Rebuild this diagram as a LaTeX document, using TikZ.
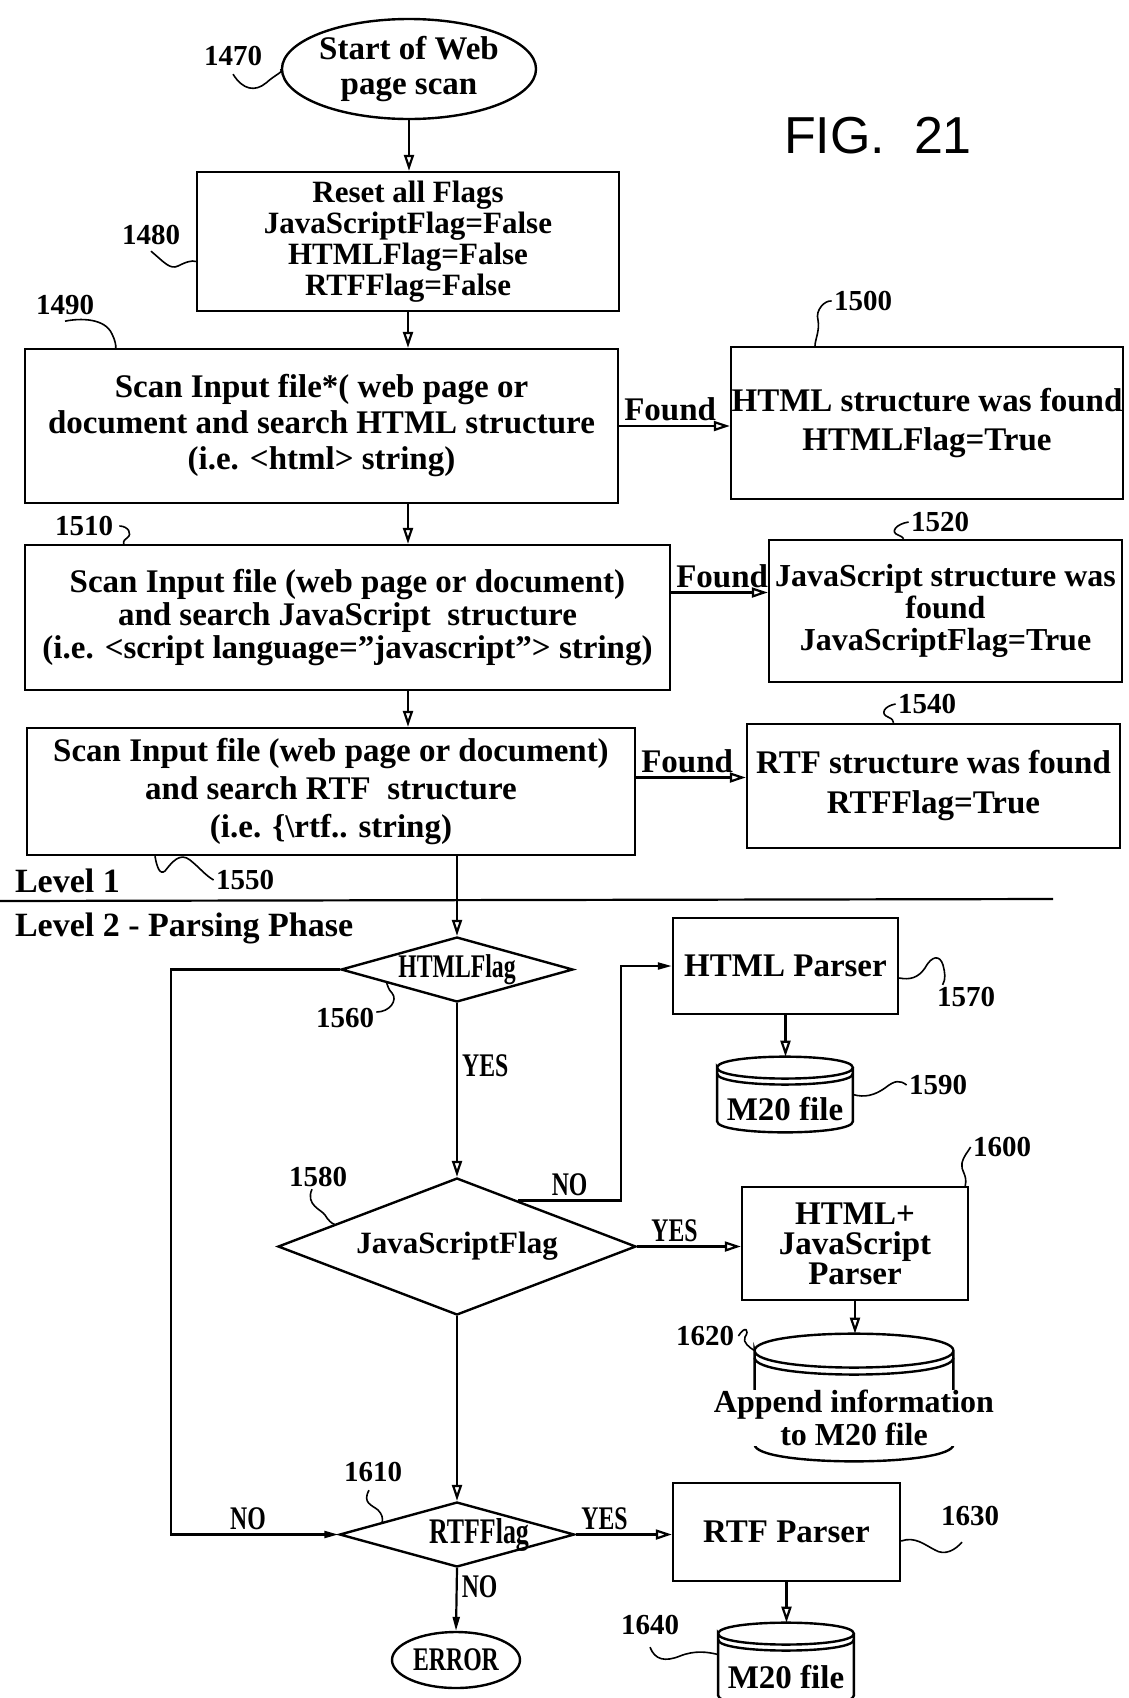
\documentclass[tikz,border=0pt]{standalone}
\usepackage{fontspec}
\setmainfont{Liberation Serif}
\setsansfont{Liberation Sans}
\newfontfamily\condfont{Liberation Serif}[FakeStretch=0.72]
\usetikzlibrary{shapes.geometric,arrows.meta,calc}

% outline of a storage drum around an empty node:
% #1 node, #2 rim radius, #3 control offset (4/3 of #2), #4 gap of the second rim
\newcommand{\drum}[4]{%
  \draw[outline] ([yshift=-#2]#1.north west) .. controls +(0pt,#3) and +(0pt,#3) .. ([yshift=-#2]#1.north east)
    .. controls +(0pt,-#3) and +(0pt,-#3) .. ([yshift=-#2]#1.north west)
    -- ([yshift=#2]#1.south west) .. controls +(0pt,-#3) and +(0pt,-#3) .. ([yshift=#2]#1.south east)
    -- ([yshift=-#2]#1.north east);
  \draw[outline] ([yshift=-#2-#4]#1.north west) .. controls +(0pt,-#3) and +(0pt,-#3) .. ([yshift=-#2-#4]#1.north east);
}

\begin{document}
\begin{tikzpicture}[x=0.5pt, y=-0.5pt,
    font=\bfseries\fontsize{16.5}{18}\selectfont,
    outline/.style={line width=1.2pt},
    box/.style={outline, draw, rectangle, align=center, inner sep=0pt},
    flag/.style={outline, draw, diamond, inner sep=0pt},
    term/.style={outline, draw, ellipse, inner sep=0pt, align=center},
    drumbody/.style={rectangle, inner sep=0pt},
    num/.style={font=\bfseries\fontsize{14.5}{14.5}\selectfont, inner sep=1pt},
    tag/.style={font=\condfont\bfseries\fontsize{16.5}{16.5}\selectfont, inner sep=2pt},
    lead/.style={line width=0.8pt},
    flow/.style={line width=1.1pt, -{Triangle[open, length=8pt, width=5pt]}},
    back/.style={line width=1.1pt, -{Triangle[length=7pt, width=3.5pt]}}]
  \useasboundingbox (0,0) rectangle (1129,1698);
  \clip (0,0) rectangle (1129,1698);

  % level 1
  \node[term, minimum width=119pt, minimum height=50pt, font=\bfseries\fontsize{16.5}{17.5}\selectfont] (start) at (409,69) {Start of Web\\page scan};
  \node[font=\sffamily\fontsize{26}{26}\selectfont] (fig) at (878,136) {FIG.~~21};
  \node[box, minimum width=211pt, minimum height=69.5pt, font=\bfseries\fontsize{15.5}{15.5}\selectfont] (reset) at (408,241.5) {Reset all Flags\\JavaScriptFlag=False\\HTMLFlag=False\\RTFFlag=False};
  \node[box, minimum width=296.5pt, minimum height=77pt] (scanhtml) at (321.5,426) {Scan Input file*( web page or\\document and search HTML structure\\(i.e. <html> string)};
  \node[box, minimum width=196pt, minimum height=76pt, font=\bfseries\fontsize{16.5}{19.5}\selectfont] (foundhtml) at (927,423) {HTML structure was found\\HTMLFlag=True};
  \node[box, minimum width=322.5pt, minimum height=72.5pt, font=\bfseries\fontsize{16.5}{16.5}\selectfont] (scanjs) at (347.5,617.5) {Scan Input file (web page or document)\\and search JavaScript~ structure\\(i.e. <script language=''javascript''> string)};
  \node[box, minimum width=176.5pt, minimum height=71pt, font=\bfseries\fontsize{16}{16}\selectfont] (foundjs) at (945.5,611) {JavaScript structure was\\found\\JavaScriptFlag=True};
  \node[box, minimum width=304pt, minimum height=63.5pt, font=\bfseries\fontsize{16.5}{19}\selectfont] (scanrtf) at (331,791.5) {Scan Input file (web page or document)\\and search RTF~ structure\\(i.e. \{\textbackslash rtf.. string)};
  \node[box, minimum width=186.5pt, minimum height=62pt, font=\bfseries\fontsize{16.5}{20}\selectfont] (foundrtf) at (933.5,786) {RTF structure was found\\RTFFlag=True};

  \node[num] (n1470) at (233,56) {1470};
  \node[num] (n1480) at (151,235) {1480};
  \node[num] (n1490) at (65,305) {1490};
  \node[num] (n1500) at (863,301) {1500};
  \node[num] (n1510) at (84,526) {1510};
  \node[num] (n1520) at (940,522) {1520};
  \node[num] (n1540) at (927,704) {1540};
  \node[num] (n1550) at (245,880) {1550};

  \coordinate (spine) at (408,0);
  \draw[flow] (start.south) -- (start.south |- reset.north);
  \draw[flow] (spine |- reset.south) -- (spine |- scanhtml.north);
  \draw[flow] (spine |- scanhtml.south) -- (spine |- scanjs.north);
  \draw[flow] (spine |- scanjs.south) -- (spine |- scanrtf.north);
  \draw[flow] (scanhtml.east) -- node[tag, pos=0, above right, font=\bfseries\fontsize{16.5}{16.5}\selectfont] {Found} (scanhtml.east -| foundhtml.west);
  \draw[flow] ([yshift=12.5pt]scanjs.east) -- node[tag, pos=0, above right, font=\bfseries\fontsize{16.5}{16.5}\selectfont] {Found} ([yshift=12.5pt]scanjs.east -| foundjs.west);
  \draw[flow] ([yshift=7pt]scanrtf.east) -- node[tag, pos=0, above right, font=\bfseries\fontsize{16.5}{16.5}\selectfont] {Found} ([yshift=7pt]scanrtf.east -| foundrtf.west);

  \draw[lead] ([yshift=-3pt]n1470.south) .. controls (243,90) and (255,92) .. (266,83) .. controls (276,74) and (284,72) .. (start.west);
  \draw[lead] ([yshift=-2pt]n1480.south) .. controls (164,262) and (170,270) .. (178,266) .. controls (186,262) and (192,260) .. ([yshift=-10pt]reset.west);
  \draw[lead] ([yshift=-2pt]n1490.south) .. controls (80,318) and (105,318) .. (112,334) .. controls (115,340) and (116,345) .. ([xshift=46pt]scanhtml.north west);
  \draw[lead] (n1500.west) .. controls (825,300) and (815,310) .. (818,320) .. controls (820,330) and (815,340) .. ([xshift=-56pt]foundhtml.north);
  \draw[lead] ([xshift=2pt]n1510.east) .. controls (128,526) and (133,534) .. (127,538) .. controls (122,541) and (124,544) .. ([xshift=50pt]scanjs.north west);
  \draw[lead] (n1520.west) .. controls (896,524) and (890,532) .. (898,535) .. controls (903,537) and (903,538) .. ([xshift=-21pt]foundjs.north);
  \draw[lead] (n1540.west) .. controls (884,706) and (880,714) .. (888,717) .. controls (893,719) and (893,721) .. ([xshift=-20pt]foundrtf.north);
  \draw[lead] ([xshift=-88pt]scanrtf.south) .. controls (157,868) and (160,875) .. (165,871) .. controls (172,862) and (180,852) .. (190,860) .. controls (200,868) and (205,875) .. (n1550.west);

  \node[anchor=west, font=\bfseries\fontsize{17}{17}\selectfont] (lvl1) at (8,881) {Level 1};
  \draw[line width=1.1pt] (0,901) -- (1053,899);
  \node[anchor=west, font=\bfseries\fontsize{17}{17}\selectfont] (lvl2) at (8,928) {Level 2 - Parsing Phase};

  % level 2
  \node[flag, minimum width=116pt, minimum height=32.5pt, label={center:{\condfont\bfseries HTMLFlag}}] (htmlflag) at (457,969.5) {};
  \node[flag, minimum width=179pt, minimum height=68.5pt, label={center:{\fontsize{15.5}{15.5}\selectfont JavaScriptFlag}}] (jsflag) at (457,1246.5) {};
  \node[flag, minimum width=117.5pt, minimum height=32.5pt, label={[xshift=11pt]center:{\condfont\bfseries\fontsize{18}{18}\selectfont RTFFlag}}] (rtfflag) at (457,1534.5) {};
  \node[term, minimum width=64pt, minimum height=28pt, font=\condfont\bfseries\fontsize{16.5}{16.5}\selectfont] (error) at (456,1660) {ERROR};

  \node[box, minimum width=112.5pt, minimum height=48pt] (htmlparser) at (785.5,966) {HTML Parser};
  \node[box, minimum width=113pt, minimum height=56.5pt, font=\bfseries\fontsize{16.5}{15}\selectfont] (htmljs) at (855,1243.5) {HTML+\\JavaScript\\Parser};
  \node[box, minimum width=113.5pt, minimum height=49pt] (rtfparser) at (786.5,1532) {RTF Parser};

  \node[drumbody, minimum width=67.5pt, minimum height=37.5pt] (m20a) at (785,1094.5) {};
  \drum{m20a}{5.5pt}{7.3pt}{3pt}
  \node (m20atext) at (785,1109) {M20 file};
  \node[drumbody, minimum width=99pt, minimum height=63.5pt] (appfile) at (854,1397.5) {};
  \drum{appfile}{8.5pt}{11.3pt}{3.5pt}
  \node[fill=white, inner xsep=1pt, inner ysep=0pt, align=center, font=\bfseries\fontsize{16}{16.5}\selectfont] (apptext) at (854,1418) {Append information\\to M20 file};
  \node[drumbody, minimum width=67.5pt, minimum height=41.5pt] (m20b) at (786,1664.5) {};
  \drum{m20b}{5.5pt}{7.3pt}{3pt}
  \node (m20btext) at (786,1677) {M20 file};

  \node[num] (n1560) at (345,1018) {1560};
  \node[num] (n1570) at (966,997) {1570};
  \node[num] (n1580) at (318,1177) {1580};
  \node[num] (n1590) at (938,1085) {1590};
  \node[num] (n1600) at (1002,1147) {1600};
  \node[num] (n1610) at (373,1472) {1610};
  \node[num] (n1620) at (705,1336) {1620};
  \node[num] (n1630) at (970,1516) {1630};
  \node[num] (n1640) at (650,1625) {1640};

  \coordinate (loopl) at (171,0);
  \coordinate (nobend) at (621,0);
  \coordinate (jsno) at ($(jsflag.north)!0.34!(jsflag.east)$);
  \draw[flow] (htmlflag.north |- scanrtf.south) -- (htmlflag.north);
  \draw[flow] (htmlflag.south) -- node[tag, right, pos=0.36] {YES} (jsflag.north);
  \draw[flow] (jsflag.south) -- (rtfflag.north);
  \draw[back] (rtfflag.south) -- node[tag, right, pos=0.3] {NO} (error.north);
  \draw[back] (htmlflag.west) -- (htmlflag.west -| loopl) |- node[tag, above, pos=0.73] {NO} (rtfflag.west);
  \draw[back] (jsno) -- node[tag, above] {NO} (jsno -| nobend) |- (htmlparser.west);
  \draw[flow] (jsflag.east) -- node[tag, above, pos=0.36] {YES} (jsflag.east -| htmljs.west);
  \draw[flow] (rtfflag.east) -- node[tag, above, pos=0.3] {YES} (rtfflag.east -| rtfparser.west);
  \draw[flow] (htmlparser.south) -- (htmlparser.south |- m20a.north);
  \draw[flow] (htmljs.south) -- (htmljs.south |- appfile.north);
  \draw[flow] (rtfparser.south) -- (rtfparser.south |- m20b.north);

  \draw[lead] ([yshift=3pt]n1560.east) .. controls (390,1012) and (398,1000) .. (392,993) .. controls (388,989) and (388,986) .. ($(htmlflag.west)!0.4!(htmlflag.south)$);
  \draw[lead] ([yshift=-6pt]htmlparser.east) .. controls (910,980) and (918,978) .. (925,968) .. controls (932,955) and (940,955) .. (943,965) .. controls (945,973) and (946,979) .. ([xshift=4pt]n1570.north west);
  \draw[lead] ([xshift=-3pt]n1580.south) .. controls (305,1205) and (322,1210) .. (325,1215) .. controls (328,1220) and (332,1224) .. ($(jsflag.west)!0.32!(jsflag.north)$);
  \draw[lead] (m20a.east) .. controls (865,1098) and (875,1095) .. (885,1088) .. controls (895,1080) and (900,1080) .. (n1590.west);
  \draw[lead] ([xshift=-2pt]htmljs.north east) .. controls (968,1175) and (960,1170) .. (962,1163) .. controls (964,1155) and (968,1152) .. (n1600.west);
  \draw[lead] ([xshift=-2pt,yshift=-3pt]n1610.south) .. controls (362,1503) and (372,1505) .. (378,1510) .. controls (382,1514) and (383,1518) .. ($(rtfflag.west)!0.37!(rtfflag.north)$);
  \draw[lead] ([xshift=1pt]n1620.east) .. controls (745,1325) and (750,1330) .. (745,1337) .. controls (742,1342) and (750,1348) .. ([yshift=-8.5pt]appfile.north west);
  \draw[lead] ([yshift=-4.5pt]rtfparser.east) .. controls (915,1536) and (925,1545) .. (935,1550) .. controls (945,1556) and (955,1550) .. ([xshift=-4pt,yshift=-7pt]n1630.south);
  \draw[lead] ([yshift=-5pt]n1640.south) .. controls (655,1660) and (665,1662) .. (680,1656) .. controls (695,1650) and (708,1652) .. ([yshift=5pt]m20b.west);
\end{tikzpicture}
\end{document}
